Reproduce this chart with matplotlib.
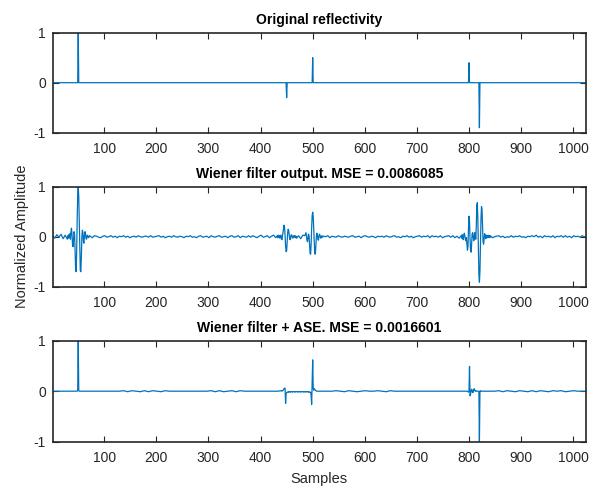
import numpy as np
import matplotlib
matplotlib.use("Agg")
import matplotlib.pyplot as plt

plt.rcParams['font.family'] = ['Liberation Sans', 'DejaVu Sans']
plt.rcParams['axes.unicode_minus'] = False

N_SAMPLES = 1024

# ---- Original reflectivity (spikes) ----
refl_pos = [50, 450, 500, 800, 820]
refl_amp = [1.0, -0.3, 0.5, 0.4, -0.9]

# ---- Wiener filter output ----
mid_noise_step = 4
mid_noise = [
    0.02, -0.03, 0.04, -0.01, 0.05, -0.04, 0.03, -0.05, 0.06, -0.02, 0.04, -0.06, 0.05, -0.03, 0.04, -0.02,
    0.03, -0.02, 0.01, -0.02, 0.02, 0.01, -0.01, -0.02, 0.01, 0.02, -0.01, 0.00, 0.02, -0.01, 0.01, -0.02,
    0.01, 0.00, 0.02, -0.01, 0.01, -0.02, 0.00, 0.01, -0.01, 0.02, 0.00, -0.01, 0.01, 0.01, -0.01, 0.02,
    -0.01, 0.00, 0.01, 0.02, -0.01, 0.01, -0.02, 0.00, 0.01, -0.01, 0.02, 0.00, -0.01, 0.01, 0.00, -0.02,
    0.01, 0.00, 0.02, -0.01, 0.00, -0.02, 0.01, 0.02, -0.01, 0.00, 0.01, -0.02, 0.02, 0.00, -0.01, 0.01,
    0.02, -0.01, 0.00, 0.01, -0.02, 0.01, 0.02, -0.01, 0.00, 0.02, -0.02, 0.01, 0.00, -0.01, 0.02, -0.01,
    0.02, 0.00, -0.02, 0.01, 0.03, -0.01, 0.00, 0.02, -0.02, 0.01, 0.03, -0.02, 0.01, -0.03, 0.02, -0.02,
    0.02, -0.03, 0.03, -0.02, 0.04, -0.03, 0.02, -0.04, 0.03, -0.02, 0.03, -0.03, 0.02, -0.02, 0.01, -0.02,
    0.02, -0.01, 0.01, 0.00, 0.02, -0.02, 0.01, 0.00, -0.01, 0.02, 0.00, -0.01, 0.01, 0.00, -0.01, 0.01,
    0.02, -0.01, 0.00, 0.01, -0.02, 0.01, 0.02, 0.00, -0.01, 0.01, 0.00, -0.02, 0.01, 0.00, 0.01, -0.01,
    0.02, 0.00, -0.01, 0.01, 0.02, -0.01, 0.00, -0.02, 0.01, 0.00, 0.02, -0.01, 0.01, -0.02, 0.00, 0.01,
    0.02, -0.01, 0.01, 0.00, 0.02, -0.02, 0.02, 0.00, 0.01, -0.01, 0.02, -0.02, 0.00, 0.01, 0.02, -0.01,
    0.02, -0.02, 0.01, -0.03, 0.02, -0.01, 0.03, -0.02, 0.02, -0.01, 0.02, -0.03, 0.02, -0.02, 0.03, -0.01,
    0.02, -0.01, 0.02, -0.02, 0.00, 0.01, 0.02, -0.01, 0.01, -0.02, 0.00, -0.01, 0.02, -0.01, 0.01, 0.00,
    0.02, -0.01, 0.00, -0.02, 0.01, 0.00, 0.02, 0.00, 0.03, -0.01, 0.01, -0.02, 0.02, 0.00, 0.01, -0.01,
    0.02, -0.02, 0.01, 0.00, 0.02, -0.01, 0.02, -0.01, 0.01, -0.02, 0.02, 0.00, 0.01, -0.01, 0.02, 0.00,
]

# event at 50
mid_b1_start = 30
mid_b1 = [0.02, -0.03, 0.04, -0.02, 0.06, -0.05, 0.10, 0.17, 0.05, -0.15,
          -0.20, -0.05, 0.10, 0.05, -0.30, -0.65, -0.70, -0.30, 0.35, 0.85,
          1.00, 0.80, 0.30, -0.30, -0.68, -0.70, -0.40, 0.00, 0.13, 0.08,
          -0.10, -0.13, 0.02, 0.10, 0.06, -0.04, -0.05, 0.02, 0.03, -0.01,
          -0.02, 0.01, 0.02]

# event at 450
mid_b2_start = 432
mid_b2 = [0.02, -0.02, 0.03, -0.01, 0.02, -0.03, 0.01, 0.03, -0.04, -0.06,
          0.02, 0.08, 0.15, 0.23, 0.18, 0.02, -0.18, -0.30, -0.28, -0.10,
          0.08, 0.15, 0.12, 0.03, -0.05, -0.06, 0.01, 0.04, 0.03, -0.02,
          -0.03, 0.01, 0.02, -0.01, 0.02, -0.02, 0.01]

# event at 500
mid_b3_start = 485
mid_b3 = [0.02, 0.05, 0.08, 0.03, -0.07, -0.10, -0.02, 0.05, 0.02, -0.15,
          -0.33, -0.35, -0.15, 0.17, 0.42, 0.49, 0.40, 0.15, -0.15, -0.34,
          -0.35, -0.20, 0.00, 0.07, 0.04, -0.05, -0.07, 0.01, 0.05, 0.03,
          -0.02, -0.03, 0.01, 0.02, -0.01]

# events at 800 and 820
mid_b4_start = 785
mid_b4 = [0.02, -0.03, 0.04, 0.00, -0.06, 0.03, 0.07, 0.02, -0.05, -0.08,
          -0.02, -0.15, -0.27, -0.20, 0.15, 0.41, 0.30, -0.05, -0.28, -0.31,
          -0.15, 0.05, 0.08, 0.02, -0.08, -0.05, 0.08, 0.05, -0.05, 0.20,
          0.62, 0.68, 0.35, -0.25, -0.75, -0.91, -0.70, -0.20, 0.35, 0.60,
          0.55, 0.20, -0.10, -0.15, -0.05, 0.06, 0.04, -0.04, -0.03, 0.03,
          0.02, -0.02, 0.03, -0.01, 0.02, -0.02]

# ---- Wiener filter + ASE ----
bot_noise_step = 8
bot_noise = [
    0.0, 0.0, 0.0, 0.0, 0.0, 0.0, 0.0, 0.0, 0.0, 0.0, 0.0, 0.0, 0.0, 0.0, 0.0, 0.0,
    0.0, 0.01, -0.01, 0.01, 0.0, -0.01, 0.01, -0.01, 0.01, 0.0, -0.01, 0.01, 0.0, 0.0, 0.0, 0.0,
    0.0, 0.0, 0.0, 0.0, 0.0, 0.0, 0.01, -0.01, 0.01, -0.01, 0.0, 0.01, -0.01, 0.01, 0.0, 0.0,
    0.0, 0.0, 0.0, 0.0, 0.0, 0.0, 0.0, 0.0, 0.0, 0.0, 0.0, 0.0, 0.0, 0.0, 0.0, 0.0,
    0.0, 0.0, 0.0, 0.0, 0.01, 0.0, -0.01, 0.01, 0.0, -0.01, 0.0, 0.01, 0.0, 0.0, 0.01, 0.0,
    -0.01, 0.01, 0.0, 0.0, 0.0, 0.0, 0.0, 0.0, 0.0, 0.0, 0.0, 0.0, 0.0, 0.0, 0.0, 0.0,
    0.0, 0.0, 0.0, 0.0, 0.0, 0.0, 0.0, 0.0, 0.0, 0.0, 0.0, 0.01, -0.01, 0.01, 0.0, -0.01,
    0.01, 0.0, -0.01, 0.01, -0.01, 0.01, 0.0, -0.01, 0.01, 0.0, 0.01, -0.01, 0.0, 0.01, 0.0, 0.0,
]

# event at 50
bot_b1_start = 46
bot_b1 = [0.0, 0.0, 0.0, 0.02, 1.00, 0.01, 0.0, 0.0, 0.0]

# event at 450 and the slightly negative stretch after it
bot_b2_start = 440
bot_b2 = [0.01, 0.0, 0.01, 0.02, 0.03, 0.05, 0.06, 0.06, -0.24, -0.05,
          -0.03, -0.02, -0.02, -0.01, -0.02, -0.01, -0.01, -0.02, -0.01, -0.01,
          -0.01, -0.02, -0.01, -0.01, -0.01, -0.01, -0.02, -0.01, -0.01, -0.01,
          -0.01, -0.01, -0.02, -0.01, -0.01, -0.01, -0.01, -0.02, -0.01, -0.01,
          -0.01, -0.01, -0.01, -0.02, -0.01, -0.01, -0.01, -0.02, -0.01, -0.01,
          -0.01, -0.01, -0.02, -0.01, -0.02]

# event at 500
bot_b3_start = 495
bot_b3 = [-0.02, -0.02, -0.08, -0.26, 0.15, 0.62, 0.05, 0.02, 0.05, 0.04,
          0.02, 0.01, 0.01, 0.0]

# events at 800 and 820
bot_b4_start = 795
bot_b4 = [0.0, 0.0, 0.0, -0.01, -0.02, 0.0, 0.49, -0.09, -0.06, 0.0,
          0.04, 0.02, -0.03, -0.02, 0.03, 0.05, 0.02, 0.0, 0.01, 0.0,
          0.0, 0.0, 0.0, 0.0, 0.0, -1.00, 0.0, 0.01, 0.0, 0.0]

titles = ["Original reflectivity",
          "Wiener filter output. MSE = 0.0086085",
          "Wiener filter + ASE. MSE = 0.0016601"]
xticks = [100, 200, 300, 400, 500, 600, 700, 800, 900, 1000]
yticks = [-1, 0, 1]

LINE_C = "#0072BD"
AX_C = "#262626"


def build(noise, step, bursts):
    nx = np.arange(1, 1 + step * len(noise), step)[:len(noise)]
    ny = np.array(noise[:len(nx)], dtype=float)
    keep = np.ones(len(nx), bool)
    bxs, bys = [], []
    for start, vals in bursts:
        bx = np.arange(start, start + len(vals))
        keep &= ~((nx >= bx[0]) & (nx <= bx[-1]))
        bxs.append(bx)
        bys.append(np.array(vals, dtype=float))
    x = np.concatenate([nx[keep]] + bxs + [[N_SAMPLES]])
    y = np.concatenate([ny[keep]] + bys + [[noise[-1]]])
    order = np.argsort(x, kind="stable")
    return x[order], y[order]


x_top = np.arange(1, N_SAMPLES + 1)
y_top = np.zeros(N_SAMPLES)
for p, a in zip(refl_pos, refl_amp):
    y_top[p - 1] = a

x_mid, y_mid = build(mid_noise, mid_noise_step,
                     [(mid_b1_start, mid_b1), (mid_b2_start, mid_b2),
                      (mid_b3_start, mid_b3), (mid_b4_start, mid_b4)])
x_bot, y_bot = build(bot_noise, bot_noise_step,
                     [(bot_b1_start, bot_b1), (bot_b2_start, bot_b2),
                      (bot_b3_start, bot_b3), (bot_b4_start, bot_b4)])

fig = plt.figure(figsize=(6.0, 4.92), dpi=100)
W, H = 600, 492
boxes = [(52.7, 32.7, 585.7, 132.7), (52.7, 186.7, 585.7, 286.7), (52.7, 340.7, 585.7, 441.7)]
data = [(x_top, y_top), (x_mid, y_mid), (x_bot, y_bot)]

axes = []
for (l, t, r, b), (xx, yy), title in zip(boxes, data, titles):
    ax = fig.add_axes([l / W, 1 - b / H, (r - l) / W, (b - t) / H])
    ax.plot(xx, yy, color=LINE_C, lw=0.9)
    ax.set_xlim(1, N_SAMPLES)
    ax.set_ylim(-1, 1)
    ax.set_xticks(xticks)
    ax.set_yticks(yticks)
    ax.tick_params(axis="x", pad=7)
    ax.tick_params(axis="y", pad=5)
    ax.tick_params(direction="in", length=4, width=0.8, colors=AX_C, labelsize=10,
                   top=True, right=True)
    for s in ax.spines.values():
        s.set_color(AX_C)
        s.set_linewidth(1.2)
    ax.set_title(title, fontsize=10, fontweight="bold", color="black", pad=6)
    axes.append(ax)

axes[1].set_ylabel("Normalized Amplitude", fontsize=10.5, color=AX_C, labelpad=3)
axes[2].set_xlabel("Samples", fontsize=10.5, color=AX_C, labelpad=5)

fig.savefig("out.png", dpi=100)
